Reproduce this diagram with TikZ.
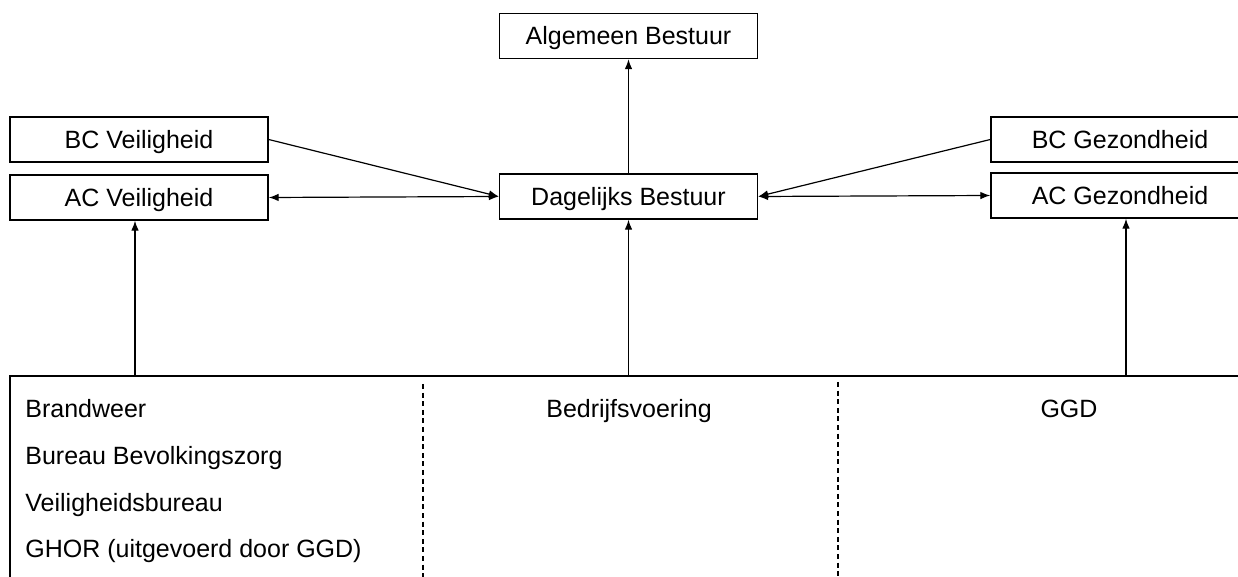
\documentclass[tikz,border=0pt]{standalone}
\usepackage{fontspec}
\setmainfont{Liberation Sans}
\usetikzlibrary{arrows.meta,positioning}

\begin{document}
\begin{tikzpicture}[
			x=0.5pt, y=-0.5pt,
			font=\fontsize{12.5}{15}\selectfont,
			post/.style={-{Latex[length=5pt,width=3.8pt]},line width=0.6pt},
			both/.style={{Latex[length=5pt,width=3.8pt]}-{Latex[length=5pt,width=3.8pt]},line width=0.6pt},
			sep/.style={dash pattern=on 2.5pt off 1.8pt,line width=0.6pt},
			unit/.style={rectangle,draw,line width=0.7pt,minimum width=129pt,minimum height=22.5pt,inner sep=0pt,text height=9pt,text depth=0pt},
			item/.style={anchor=base west,inner sep=0pt},
			head/.style={anchor=base,inner sep=0pt}]

		\useasboundingbox (0,0) rectangle (1238,577);
		\clip (0,0) rectangle (1238,577);

		\node[unit]  (alg) at (628.5,36) {Algemeen Bestuur};
		\node[unit]  (dag) at (628.5,196.5) {Dagelijks Bestuur}
		edge [post] (alg);
		\node[unit]  (bcv) at (139,139.5) {BC Veiligheid};
		\node[unit]  (acv) at (139,197.5) {AC Veiligheid};
		\node[unit]  (bcg) at (1120,139.5) {BC Gezondheid};
		\node[unit]  (acg) at (1120,195.5) {AC Gezondheid};

		% organisatie onderaan
		\node[rectangle,draw,line width=0.7pt,minimum width=625pt,minimum height=122pt,inner sep=0pt] (org) at (635,498) {};
		\coordinate (sepA) at (423,384);
		\coordinate (sepB) at (838,382);
		\draw[sep] (sepA) -- (sepA |- 0,577);
		\draw[sep] (sepB) -- (sepB |- 0,577);

		\node[item] (brw) at (25,418) {Brandweer};
		\node[item] (bbz) at (25,464.5) {Bureau Bevolkingszorg};
		\node[item] (vhb) at (25,511) {Veiligheidsbureau};
		\node[item] (ghor) at (25,557.5) {GHOR (uitgevoerd door GGD)};
		\node[head] (bdv) at (629,418) {Bedrijfsvoering};
		\node[head] (ggd) at (1069,418) {GGD};

		\draw[post] (bcv.east) -- (dag.west);
		\draw[post] (bcg.west) -- (dag.east);
		\draw[both] (acv.east) -- (dag.west);
		\draw[both] (dag.east) -- (acg.west);

		\draw[post] (org.north -| 135,0) -- (acv.south -| 135,0);
		\draw[post] (org.north -| dag.south) -- (dag.south);
		\draw[post] (org.north -| 1126,0) -- (acg.south -| 1126,0);
	\end{tikzpicture}
\end{document}
